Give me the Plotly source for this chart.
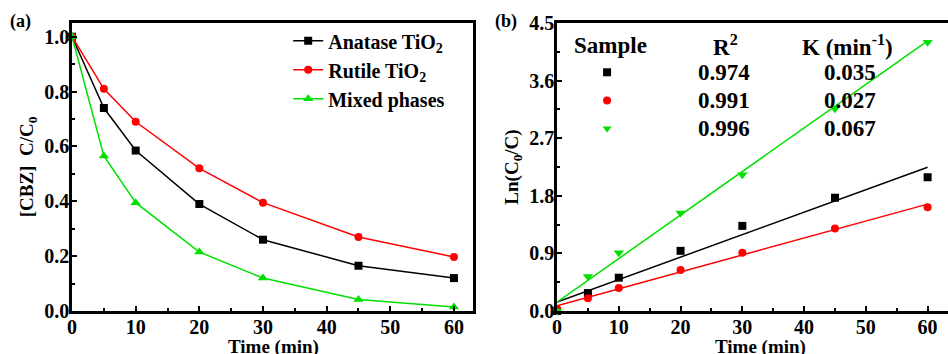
import plotly.graph_objects as go

# ---- data ----
time_min = [0, 5, 10, 20, 30, 45, 60]
anatase = [1.0, 0.74, 0.585, 0.39, 0.26, 0.165, 0.12]
rutile = [1.0, 0.81, 0.69, 0.52, 0.395, 0.27, 0.197]
mixed = [1.0, 0.565, 0.395, 0.215, 0.12, 0.042, 0.015]

ln_anatase = [0.0, 0.28, 0.52, 0.94, 1.33, 1.77, 2.09]
ln_rutile = [0.03, 0.20, 0.36, 0.64, 0.91, 1.29, 1.62]
ln_mixed = [0.0, 0.54, 0.91, 1.53, 2.13, 3.16, 4.20]

fit_intercepts = [0.14, 0.08, 0.14]
fit_slopes = [0.0351, 0.0265, 0.068]
fit_x = [0, 60]

series_names = ["Anatase TiO<sub>2</sub>", "Rutile TiO<sub>2</sub>", "Mixed phases"]
r2_values = ["0.974", "0.991", "0.996"]
k_values = ["0.035", "0.027", "0.067"]

colors = ["#000000", "#ff0000", "#00e000"]
symbols_a = ["square", "circle", "triangle-up"]
symbols_b = ["square", "circle", "triangle-down"]

FONT = "Liberation Serif"

fig = go.Figure()

series_a = [anatase, rutile, mixed]
for name, ys, c, s in zip(series_names, series_a, colors, symbols_a):
    fig.add_trace(go.Scatter(
        x=time_min, y=ys, name=name, mode="lines+markers",
        line=dict(color=c, width=1.5),
        marker=dict(symbol=s, size=8 if s != "triangle-up" else 9, color=c),
        cliponaxis=False, xaxis="x", yaxis="y"))

series_b = [ln_anatase, ln_rutile, ln_mixed]
for ys, c, s, b0, b1 in zip(series_b, colors, symbols_b, fit_intercepts, fit_slopes):
    fig.add_trace(go.Scatter(
        x=time_min, y=ys, mode="markers", showlegend=False,
        marker=dict(symbol=s, size=8 if s != "triangle-down" else 9, color=c),
        cliponaxis=False, xaxis="x2", yaxis="y2"))
    fig.add_trace(go.Scatter(
        x=fit_x, y=[b0 + b1 * x for x in fit_x], mode="lines", showlegend=False,
        line=dict(color=c, width=1.5), xaxis="x2", yaxis="y2"))

# table markers in panel (b)
table_rows_y = [3.73, 3.29, 2.85]
for c, s, ty in zip(colors, symbols_b, table_rows_y):
    fig.add_trace(go.Scatter(
        x=[8.1], y=[ty], mode="markers", showlegend=False,
        marker=dict(symbol=s, size=8, color=c), xaxis="x2", yaxis="y2"))

tickfont = dict(family=FONT, size=20, color="black", weight="bold")
titlefont = dict(family=FONT, size=19, color="black", weight="bold")

common_axis = dict(
    showline=True, linecolor="black", linewidth=2.5, mirror=True,
    ticks="inside", ticklen=5, tickwidth=2, tickcolor="black",
    showgrid=False, zeroline=False, tickfont=tickfont, automargin=False,
    ticklabelstandoff=-4)

ydom = [0.1215, 0.935]

fig.update_layout(
    template="none",
    width=948, height=354,
    margin=dict(l=0, r=0, t=0, b=0, pad=0),
    paper_bgcolor="white", plot_bgcolor="white",
    xaxis=dict(domain=[0.076, 0.499], range=[0, 63], dtick=10, anchor="y",
               minor=dict(ticks="inside", ticklen=3, dtick=5, tickcolor="black", tickwidth=2),
               **common_axis),
    yaxis=dict(domain=ydom, range=[0, 1.05], dtick=0.2, tickformat=".1f", anchor="x",
               minor=dict(ticks="inside", ticklen=3, dtick=0.1, tickcolor="black", tickwidth=2),
               title=dict(text="[CBZ]  C/C<sub>0</sub>", font=titlefont, standoff=6), **common_axis),
    xaxis2=dict(domain=[0.5876, 1.0], range=[0, 63.3], dtick=10, anchor="y2",
                minor=dict(ticks="inside", ticklen=3, dtick=5, tickcolor="black", tickwidth=2),
                **common_axis),
    yaxis2=dict(domain=ydom, range=[0, 4.5], dtick=0.9, tickformat=".1f", anchor="x2",
                minor=dict(ticks="inside", ticklen=3, dtick=0.45, tickcolor="black", tickwidth=2),
                title=dict(text="Ln(C<sub>0</sub>/C)", font=titlefont, standoff=6), **common_axis),
    legend=dict(x=0.304, y=0.94, xanchor="left", yanchor="top",
                font=dict(family=FONT, size=20, color="black", weight="bold"),
                bgcolor="rgba(0,0,0,0)", tracegroupgap=0),
    showlegend=True,
)

ann_font = dict(family=FONT, size=23, color="black", weight="bold")
panel_labels = [("(a)", 8, 22), ("(b)", 493, 22)]
anns = []
for text, px, py in panel_labels:
    anns.append(dict(text=text, x=px / 948, y=1 - py / 354, xref="paper", yref="paper",
                     xanchor="left", yanchor="middle", showarrow=False,
                     font=dict(family=FONT, size=18, color="black", weight="bold")))

# x-axis titles (partly cut at the bottom edge, as in the original)
for px in (273, 760):
    anns.append(dict(text="Time (min)", x=px / 948, y=1 - 347 / 354, xref="paper", yref="paper",
                     xanchor="center", yanchor="middle", showarrow=False, font=titlefont))

header_y = 4.15
anns.append(dict(text="Sample", x=8.6, y=header_y, xref="x2", yref="y2", showarrow=False, font=ann_font))
anns.append(dict(text="R<sup>2</sup>", x=27.2, y=header_y, xref="x2", yref="y2", showarrow=False, font=ann_font))
anns.append(dict(text="K (min<sup>-1</sup>)", x=47.1, y=header_y, xref="x2", yref="y2", showarrow=False, font=ann_font))
for r2, k, ty in zip(r2_values, k_values, table_rows_y):
    anns.append(dict(text=r2, x=27.0, y=ty, xref="x2", yref="y2", showarrow=False, font=ann_font))
    anns.append(dict(text=k, x=47.4, y=ty, xref="x2", yref="y2", showarrow=False, font=ann_font))

fig.update_layout(annotations=anns)

fig.write_html("out.html", config={"displayModeBar": False},
               post_script="document.body.style.margin='0';")
